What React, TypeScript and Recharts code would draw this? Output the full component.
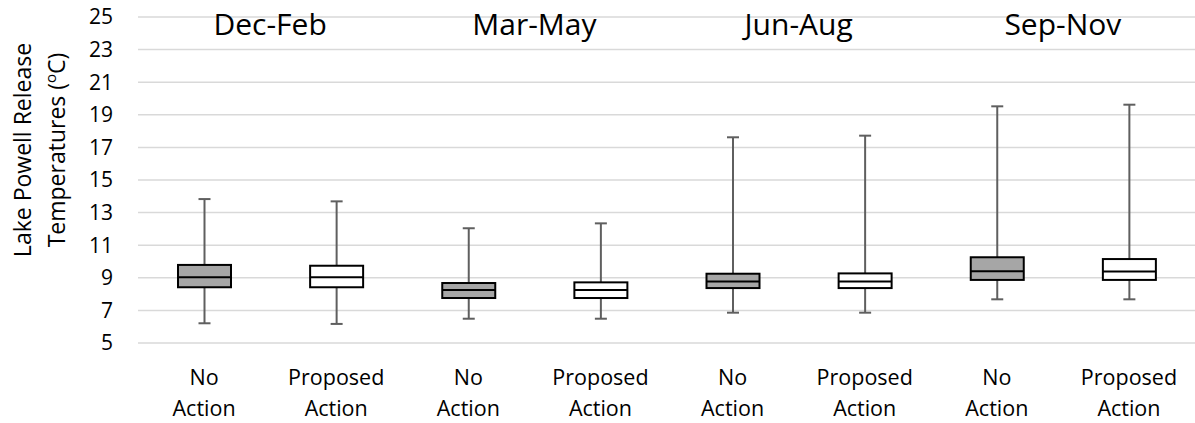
import { ComposedChart, Bar, XAxis, YAxis, CartesianGrid } from 'recharts'

const seasons = ['Dec-Feb', 'Dec-Feb', 'Mar-May', 'Mar-May', 'Jun-Aug', 'Jun-Aug', 'Sep-Nov', 'Sep-Nov']
const groups = ['No Action', 'Proposed Action', 'No Action', 'Proposed Action', 'No Action', 'Proposed Action', 'No Action', 'Proposed Action']
const mins = [6.21, 6.17, 6.49, 6.49, 6.86, 6.86, 7.68, 7.68]
const q1s = [8.42, 8.42, 7.76, 7.76, 8.37, 8.37, 8.87, 8.87]
const medians = [9.03, 9.03, 8.25, 8.25, 8.78, 8.78, 9.4, 9.38]
const q3s = [9.79, 9.74, 8.68, 8.72, 9.25, 9.27, 10.26, 10.15]
const maxs = [13.83, 13.69, 12.04, 12.34, 17.62, 17.72, 19.52, 19.62]
const yTicks = [5, 7, 9, 11, 13, 15, 17, 19, 21, 23, 25]

const data = groups.map((g, i) => ({
  season: seasons[i],
  group: g,
  range: [mins[i], maxs[i]],
  min: mins[i],
  q1: q1s[i],
  median: medians[i],
  q3: q3s[i],
  max: maxs[i],
}))

const FONT = '"Open Sans", sans-serif'

// box + whiskers drawn from the bar's [min, max] pixel extent
function BoxShape(props: any) {
  const { x, y, width, height, payload } = props
  const top = Math.min(y, y + height)
  const span = Math.abs(height)
  const { min, max, q1, median, q3, group } = payload
  const py = (v: number) => top + ((max - v) / (max - min)) * span
  const cx = x + width / 2
  const cap = 6
  const fill = group === 'No Action' ? '#a6a6a6' : '#ffffff'
  return (
    <g>
      <line x1={cx} x2={cx} y1={py(max)} y2={py(min)} stroke="#5f5f5f" strokeWidth={2} />
      <line x1={cx - cap} x2={cx + cap} y1={py(max)} y2={py(max)} stroke="#5f5f5f" strokeWidth={2} />
      <line x1={cx - cap} x2={cx + cap} y1={py(min)} y2={py(min)} stroke="#5f5f5f" strokeWidth={2} />
      <rect x={x} y={py(q3)} width={width} height={py(q1) - py(q3)} fill={fill} stroke="#000" strokeWidth={2} />
      <line x1={x} x2={x + width} y1={py(median)} y2={py(median)} stroke="#000" strokeWidth={2} />
    </g>
  )
}

// two-line group label below; season title at the top, centred over each pair
function GroupTick({ x, y, payload, index }: any) {
  const words = String(payload.value).split(' ')
  const half = payload.offset ?? 66
  const row = data[index]
  const showSeason = index % 2 === 0 && row
  return (
    <g>
      <text x={x} y={y} textAnchor="middle" fontFamily={FONT} fontSize={21.5} fill="#000">
        <tspan x={x} dy={42}>{words[0]}</tspan>
        <tspan x={x} dy={31}>{words.slice(1).join(' ')}</tspan>
      </text>
      {showSeason && (
        <text x={x + half} y={35} textAnchor="middle" fontFamily={FONT} fontSize={30} fill="#000">
          {row.season}
        </text>
      )}
    </g>
  )
}

function YTitle() {
  const cy = 150
  return (
    <g fontFamily={FONT} fontSize={23} fill="#000">
      <text x={31} y={cy} textAnchor="middle" transform={`rotate(-90, 31, ${cy})`}>
        Lake Powell Release
      </text>
      <text x={65} y={cy} textAnchor="middle" transform={`rotate(-90, 65, ${cy})`}>
        Temperatures (<tspan fontSize={15} dy={-9}>o</tspan>
        <tspan dy={9}>C)</tspan>
      </text>
    </g>
  )
}

export default function App() {
  return (
    <div style={{ width: 1195, height: 423 }}>
      <style>{'body{margin:0}'}</style>
      <ComposedChart width={1195} height={423} data={data} margin={{ top: 17, right: 0, left: 0, bottom: 0 }}>
        <CartesianGrid vertical={false} stroke="#d9d9d9" strokeWidth={1.5} />
        <XAxis
          dataKey="group"
          interval={0}
          axisLine={false}
          tickLine={false}
          tickSize={0}
          tickMargin={0}
          height={80}
          tick={<GroupTick />}
        />
        <YAxis
          domain={[5, 25]}
          ticks={yTicks}
          interval={0}
          width={138}
          axisLine={false}
          tickLine={false}
          tickSize={0}
          tickMargin={25}
          tick={{ fill: '#000', fontSize: 21, fontFamily: FONT }}
          label={<YTitle />}
        />
        <Bar dataKey="range" barSize={53} shape={<BoxShape />} isAnimationActive={false} />
      </ComposedChart>
    </div>
  )
}
